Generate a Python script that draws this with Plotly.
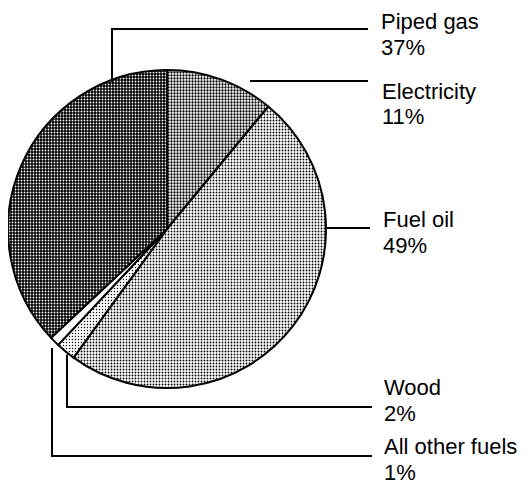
import math
import plotly.graph_objects as go

# ---- data ----
labels = ["Electricity", "Fuel oil", "Wood", "All other fuels", "Piped gas"]
values = [11, 49, 2, 1, 37]

OFF = 8                      # page body margin in the browser
W, H = 530 - OFF, 485 - OFF  # figure size
CX, CY, R = 167, 229, 159    # pie centre / radius in window pixels (layout)

def px(x):
    return (x - OFF) / W

def py(y):
    return 1 - (y - OFF) / H

fig = go.Figure()
fig.add_trace(go.Pie(
    labels=labels, values=values, sort=False, direction="clockwise", rotation=0,
    textinfo="none", hoverinfo="label+percent", showlegend=False,
    domain=dict(x=[px(CX - R), px(CX + R)], y=[py(CY + R), py(CY - R)]),
    marker=dict(
        colors=["white", "white", "white", "white", "black"],
        line=dict(color="black", width=2),
        pattern=dict(
            shape=[".", ".", ".", "", "."],
            fgcolor=["black", "black", "black", "black", "white"],
            bgcolor=["white", "white", "white", "white", "black"],
            size=[3, 3, 3, 3, 3],
            solidity=[0.45, 0.3, 0.18, 0.1, 0.3],
        ),
    ),
))

def edge_y(x, upper=True):
    dx = x - CX
    dy = math.sqrt(max(R * R - dx * dx, 0))
    return CY - dy if upper else CY + dy

# leader lines (window pixel layout positions)
leaders = {
    "Piped gas": [(112, edge_y(112) + 2), (112, 29), (368, 29)],
    "Electricity": [(250, 81), (368, 81)],
    "Fuel oil": [(CX + R, 228), (370, 228)],
    "Wood": [(67, edge_y(67, False) + 2), (67, 407), (372, 407)],
    "All other fuels": [(52, 348), (52, 456), (372, 456)],
}
for name, pts in leaders.items():
    path = "M " + " L ".join(f"{px(x):.5f},{py(y):.5f}" for x, y in pts)
    fig.add_shape(type="path", path=path, xref="paper", yref="paper",
                  line=dict(color="black", width=2))

# label positions: left x and baselines of the two lines (window pixels)
label_pos = {
    "Piped gas": (380, 29, 55),
    "Electricity": (381, 99, 124),
    "Fuel oil": (382, 227, 253),
    "Wood": (383, 395, 421),
    "All other fuels": (383, 454, 480),
}
FS = 22
font = dict(family="Liberation Sans, Arial, sans-serif", size=FS, color="black")
total = sum(values)
for name, v in zip(labels, values):
    x, b1, b2 = label_pos[name]
    for txt, b in ((name, b1), (f"{round(100 * v / total)}%", b2)):
        fig.add_annotation(
            text=txt, x=px(x), y=py(b + 0.27 * FS),
            xref="paper", yref="paper", xanchor="left", yanchor="bottom",
            align="left", showarrow=False, font=font, borderpad=0,
        )

fig.update_layout(
    width=W, height=H, margin=dict(l=0, r=0, t=0, b=0),
    paper_bgcolor="white", plot_bgcolor="white",
)
fig.write_html("out.html")
